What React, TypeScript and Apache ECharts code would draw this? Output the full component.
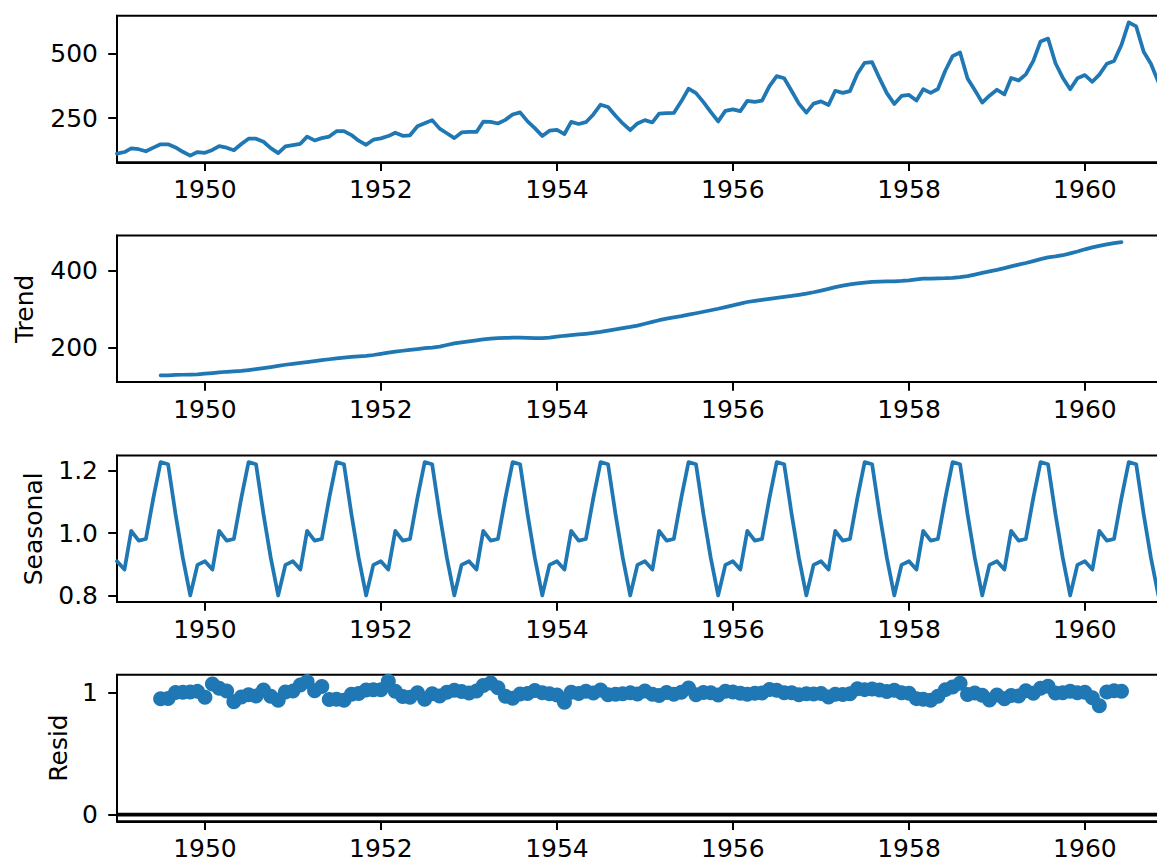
import React, { useEffect, useRef } from "react";
import * as echarts from "echarts";

// Monthly airline passengers (thousands), Jan..Dec
const passengers1949 = [112, 118, 132, 129, 121, 135, 148, 148, 136, 119, 104, 118];
const passengers1950 = [115, 126, 141, 135, 125, 149, 170, 170, 158, 133, 114, 140];
const passengers1951 = [145, 150, 178, 163, 172, 178, 199, 199, 184, 162, 146, 166];
const passengers1952 = [171, 180, 193, 181, 183, 218, 230, 242, 209, 191, 172, 194];
const passengers1953 = [196, 196, 236, 235, 229, 243, 264, 272, 237, 211, 180, 201];
const passengers1954 = [204, 188, 235, 227, 234, 264, 302, 293, 259, 229, 203, 229];
const passengers1955 = [242, 233, 267, 269, 270, 315, 364, 347, 312, 274, 237, 278];
const passengers1956 = [284, 277, 317, 313, 318, 374, 413, 405, 355, 306, 271, 306];
const passengers1957 = [315, 301, 356, 348, 355, 422, 465, 467, 404, 347, 305, 336];
const passengers1958 = [340, 318, 362, 348, 363, 435, 491, 505, 404, 359, 310, 337];
const passengers1959 = [360, 342, 406, 396, 420, 472, 548, 559, 463, 407, 362, 405];
const passengers1960 = [417, 391, 419, 461, 472, 535, 622, 606, 508, 461, 390, 432];

const startYear = 1949;
const passengers: number[] = [
  ...passengers1949, ...passengers1950, ...passengers1951, ...passengers1952,
  ...passengers1953, ...passengers1954, ...passengers1955, ...passengers1956,
  ...passengers1957, ...passengers1958, ...passengers1959, ...passengers1960,
];

const xTickYears = [1950, 1952, 1954, 1956, 1958, 1960];
const observedTicks = [250, 500];
const trendTicks = [200, 400];
const seasonalTicks = [0.8, 1.0, 1.2];
const residTicks = [0, 1];
const panelLabels = ["", "Trend", "Seasonal", "Resid"];

// Multiplicative classical decomposition (period 12), as in seasonal_decompose
const period = 12;
const trend: (number | null)[] = passengers.map((_, i) => {
  if (i < period / 2 || i >= passengers.length - period / 2) return null;
  let s = 0.5 * passengers[i - 6] + 0.5 * passengers[i + 6];
  for (let k = -5; k <= 5; k++) s += passengers[i + k];
  return s / period;
});
const monthAvg: number[] = Array.from({ length: period }, (_, m) => {
  let s = 0, c = 0;
  passengers.forEach((v, i) => {
    const t = trend[i];
    if (i % period === m && t != null) { s += v / t; c++; }
  });
  return s / c;
});
const avgMean = monthAvg.reduce((a, b) => a + b, 0) / period;
const seasonalFactors = monthAvg.map((v) => v / avgMean);
const seasonal = passengers.map((_, i) => seasonalFactors[i % period]);
const resid: (number | null)[] = passengers.map((v, i) => {
  const t = trend[i];
  return t == null ? null : v / (seasonal[i] * t);
});

const dateOf = (i: number) => Date.UTC(startYear + Math.floor(i / 12), i % 12, 1);

const BLUE = "#1f77b4";
const FONT = "DejaVu Sans";
const W = 1180;
const H = 867;
const LEFT = 117;
const RIGHT = W - 1165.6;
const TOPS = [15.7, 235.5, 455.5, 674.7];
const PH = 146.6;
const LABEL_X = [0, 24.7, 33.6, 58];

function limits(vals: number[]): [number, number] {
  const lo = Math.min(...vals);
  const hi = Math.max(...vals);
  const m = (hi - lo) * 0.05;
  return [lo - m, hi + m];
}

export default function App() {
  const ref = useRef<HTMLDivElement>(null);
  useEffect(() => {
    if (!ref.current) return;
    const chart = echarts.init(ref.current, undefined, { renderer: "svg" });
    const xMin = dateOf(0);
    const xMax = dateOf(passengers.length - 1);
    const xTickVals = xTickYears.map((y) => Date.UTC(y, 0, 1));

    const trendVals = trend.filter((v) => v != null) as number[];
    const residVals = resid.filter((v) => v != null) as number[];
    const yLims: [number, number][] = [
      limits(passengers),
      limits(trendVals),
      limits(seasonal),
      limits([...residVals, 0]),
    ];
    const yTicks = [observedTicks, trendTicks, seasonalTicks, residTicks];
    const yFmt = [
      (v: number) => String(Math.round(v)),
      (v: number) => String(Math.round(v)),
      (v: number) => v.toFixed(1),
      (v: number) => String(Math.round(v)),
    ];

    const axisText = { color: "#000", fontSize: 25, fontFamily: FONT };

    const option: any = {
      animation: false,
      grid: TOPS.map((t) => ({
        left: LEFT, right: RIGHT, top: t, height: PH, show: true,
        borderColor: "#000", borderWidth: 2, backgroundColor: "transparent",
      })),
      xAxis: TOPS.map((_, g) => ({
        type: "value", gridIndex: g, min: xMin, max: xMax,
        axisLine: { show: true, onZero: false, lineStyle: { color: "#000", width: 2 } },
        axisTick: { show: true, customValues: xTickVals, length: 8.75, lineStyle: { color: "#000", width: 2 } },
        axisLabel: {
          ...axisText, customValues: xTickVals, margin: 15,
          formatter: (v: number) => String(new Date(v).getUTCFullYear()),
        },
        splitLine: { show: false },
      })),
      yAxis: TOPS.map((_, g) => ({
        type: "value", gridIndex: g, min: yLims[g][0], max: yLims[g][1],
        axisLine: { show: true, onZero: false, lineStyle: { color: "#000", width: 2 } },
        axisTick: { show: true, customValues: yTicks[g], length: 8.75, lineStyle: { color: "#000", width: 2 } },
        axisLabel: { ...axisText, customValues: yTicks[g], margin: 19, formatter: yFmt[g] },
        splitLine: { show: false },
      })),
      series: [
        {
          type: "line", xAxisIndex: 0, yAxisIndex: 0, showSymbol: false, clip: true,
          data: passengers.map((v, i) => [dateOf(i), v]),
          lineStyle: { color: BLUE, width: 3.75, cap: "round", join: "round" },
        },
        {
          type: "line", xAxisIndex: 1, yAxisIndex: 1, showSymbol: false, clip: true,
          data: trend.map((v, i) => (v == null ? null : [dateOf(i), v])).filter((p) => p != null),
          lineStyle: { color: BLUE, width: 3.75, cap: "round", join: "round" },
        },
        {
          type: "line", xAxisIndex: 2, yAxisIndex: 2, showSymbol: false, clip: true,
          data: seasonal.map((v, i) => [dateOf(i), v]),
          lineStyle: { color: BLUE, width: 3.75, cap: "round", join: "round" },
        },
        {
          type: "line", xAxisIndex: 3, yAxisIndex: 3, showSymbol: false, clip: true, z: 1,
          data: [[xMin, 0], [xMax, 0]],
          lineStyle: { color: "#000", width: 3.75 },
        },
        {
          type: "scatter", xAxisIndex: 3, yAxisIndex: 3, symbol: "circle", symbolSize: 15, z: 3,
          data: resid.map((v, i) => (v == null ? null : [dateOf(i), v])).filter((p) => p != null),
          itemStyle: { color: BLUE, opacity: 1 },
        },
      ],
      graphic: panelLabels
        .map((label, g) =>
          label
            ? {
                type: "text",
                x: LABEL_X[g],
                y: TOPS[g] + PH / 2,
                rotation: Math.PI / 2,
                style: {
                  text: label, x: 0, y: 0, align: "center", verticalAlign: "middle",
                  fill: "#000", fontSize: 25, fontFamily: FONT,
                },
              }
            : null
        )
        .filter((e) => e != null),
    };
    chart.setOption(option);
    return () => chart.dispose();
  }, []);

  return (
    <div style={{ position: "fixed", left: 0, top: 0, width: 1157, height: H, overflow: "hidden", background: "#fff" }}>
      <div ref={ref} style={{ width: W, height: H }} />
    </div>
  );
}
